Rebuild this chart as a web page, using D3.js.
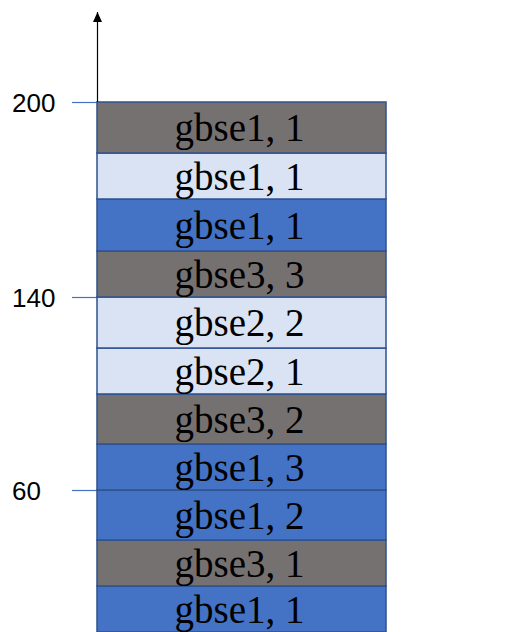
<!DOCTYPE html>
<meta charset="utf-8">
<style>
  body { margin: 0; background: #fff; }
</style>
<script src="https://d3js.org/d3.v7.min.js"></script>
<div id="chart"></div>
<script>

// segments, listed bottom to top
var labels  = ["gbse1, 1", "gbse3, 1", "gbse1, 2", "gbse1, 3", "gbse3, 2", "gbse2, 1",
               "gbse2, 2", "gbse3, 3", "gbse1, 1", "gbse1, 1", "gbse1, 1"];
var kinds   = ["blue", "gray", "blue", "blue", "gray", "light",
               "light", "gray", "blue", "light", "gray"];
var sizes   = [46, 46, 50, 46, 50, 46, 51, 46, 52, 46, 51];

// axis labels sit on the boundary after this many segments
var tickAfter  = [3, 7, 11];
var tickLabels = ["60", "140", "200"];

var width = 510, height = 632;

var svg = d3.select("#chart")
  .append("svg")
    .attr("width", width)
    .attr("height", height);

// cumulative stack
var stack = [];
var acc = 0;
sizes.forEach(function(s, i) {
  stack.push({label: labels[i], kind: kinds[i], y0: acc, y1: acc + s});
  acc += s;
});

var y = d3.scaleLinear()
  .domain([0, acc])
  .range([632, 102]);

var x = d3.scaleLinear()
  .domain([0, 1])
  .range([97, 386]);

var color = d3.scaleOrdinal()
  .domain(["blue", "gray", "light"])
  .range(["#4472C4", "#767171", "#DAE3F3"]);

// tick values = boundaries
var tickVals = tickAfter.map(function(n) { return d3.sum(sizes.slice(0, n)); });

var yAxis = d3.axisLeft(y)
  .tickValues(tickVals)
  .tickSize(25)
  .tickFormat(function(d, i) { return tickLabels[i]; });

var axisG = svg.append("g")
  .attr("transform", "translate(97,0)")
  .call(yAxis);
axisG.select(".domain").remove();
axisG.selectAll(".tick line")
  .attr("stroke", "#4472C4")
  .attr("stroke-width", 1.2);
axisG.selectAll(".tick text")
  .attr("x", -85)
  .attr("text-anchor", "start")
  .attr("dy", "0.35em")
  .style("font-family", "'Liberation Sans', Arial, sans-serif")
  .style("font-size", "26px")
  .style("fill", "#000");

// segments
var seg = svg.append("g").selectAll("g")
  .data(stack)
  .enter()
  .append("g");

seg.append("rect")
  .attr("x", x(0))
  .attr("y", function(d) { return y(d.y1); })
  .attr("width", x(1) - x(0))
  .attr("height", function(d) { return y(d.y0) - y(d.y1); })
  .attr("fill", function(d) { return color(d.kind); })
  .attr("stroke", "#2F528F")
  .attr("stroke-width", 1.5);

seg.append("text")
  .attr("x", (x(0) + x(1)) / 2 - 2)
  .attr("y", function(d) { return (y(d.y0) + y(d.y1)) / 2; })
  .attr("dy", "0.35em")
  .attr("text-anchor", "middle")
  .style("font-family", "'Liberation Serif', 'Times New Roman', serif")
  .style("font-size", "39px")
  .style("fill", "#000")
  .text(function(d) { return d.label; });

// vertical arrow axis
svg.append("defs").append("marker")
  .attr("id", "arrow")
  .attr("viewBox", "0 0 10 10")
  .attr("refX", 10)
  .attr("refY", 5)
  .attr("markerWidth", 11)
  .attr("markerHeight", 10)
  .attr("markerUnits", "userSpaceOnUse")
  .attr("orient", "auto")
  .append("path")
    .attr("d", "M0,0.5 L10,5 L0,9.5 Z")
    .attr("fill", "#000");

svg.append("line")
  .attr("x1", 97.5)
  .attr("x2", 97.5)
  .attr("y1", y(acc))
  .attr("y2", 12)
  .attr("stroke", "#000")
  .attr("stroke-width", 1.2)
  .attr("marker-end", "url(#arrow)");

</script>
